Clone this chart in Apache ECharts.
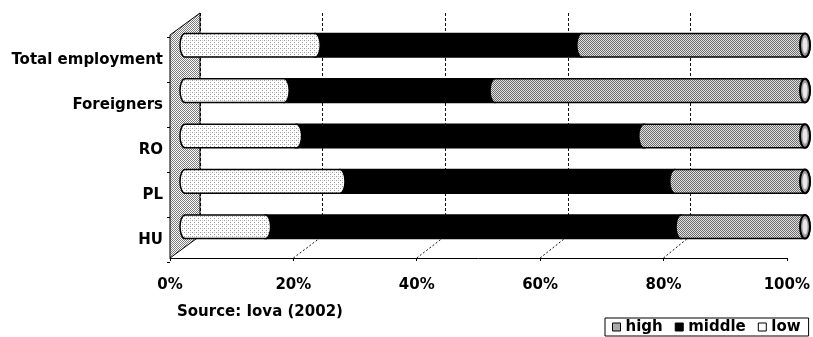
<!DOCTYPE html>
<html>
<head>
<meta charset="utf-8">
<script src="https://cdn.jsdelivr.net/npm/echarts@6/dist/echarts.min.js"></script>
<style>
  html, body { margin: 0; padding: 0; background: #fff; }
  #chart { width: 813px; height: 337px; }
</style>
</head>
<body>
<div id="chart"></div>
<script>
// Share of employment by skill level (percent of each group)
const categories = ['Total employment', 'Foreigners', 'RO', 'PL', 'HU'];
const high = [21, 16, 18, 25, 13];
const middle = [43, 34, 56, 54, 67];
const low = [36, 50, 26, 21, 20];
const seriesNames = ['high', 'middle', 'low'];
const percentTicks = [0, 20, 40, 60, 80, 100];
const sourceNote = 'Source: Iova (2002)';

const FONT = 'DejaVu Sans';

// Small dithered fills, drawn once into canvases and tiled
function makePattern(size, paint) {
  const c = document.createElement('canvas');
  c.width = c.height = size;
  paint(c.getContext('2d'));
  return { image: c, repeat: 'repeat' };
}
const lightFill = makePattern(4, ctx => {
  ctx.fillStyle = '#ffffff'; ctx.fillRect(0, 0, 4, 4);
  ctx.fillStyle = '#9a9a9a'; ctx.fillRect(0, 0, 1, 1); ctx.fillRect(2, 2, 1, 1);
  ctx.fillStyle = '#cfcfcf'; ctx.fillRect(2, 0, 1, 1);
});
const grayFill = makePattern(2, ctx => {
  ctx.fillStyle = '#e2e2e2'; ctx.fillRect(0, 0, 2, 2);
  ctx.fillStyle = '#6c6c6c'; ctx.fillRect(0, 0, 1, 1); ctx.fillRect(1, 1, 1, 1);
});
const wallFill = makePattern(2, ctx => {
  ctx.fillStyle = '#ffffff'; ctx.fillRect(0, 0, 2, 2);
  ctx.fillStyle = '#7a7a7a'; ctx.fillRect(0, 0, 1, 1); ctx.fillRect(1, 1, 1, 1);
});
const iconFill = makePattern(2, ctx => {
  ctx.fillStyle = '#ffffff'; ctx.fillRect(0, 0, 2, 2);
  ctx.fillStyle = '#555555'; ctx.fillRect(0, 0, 1, 1); ctx.fillRect(1, 1, 1, 1);
});

const stacks = [high, middle, low];
function segmentData(k) {
  return categories.map((c, i) => {
    let start = 0;
    for (let j = 0; j < k; j++) start += stacks[j][i];
    return [i, start, start + stacks[k][i]];
  });
}

// Cylinder segment: body with elliptic ends; the last one also shows its end cap
function cylinderRenderer(fill, withCap) {
  return function (params, api) {
    const cat = api.value(0);
    const a = api.coord([api.value(1), cat]);
    const b = api.coord([api.value(2), cat]);
    const band = api.size([0, 1])[1];
    const r = band * 0.26;
    const rx = 5;
    const top = a[1] - r, bot = a[1] + r;
    const body = 'M' + a[0] + ' ' + top + ' L' + b[0] + ' ' + top +
      ' A' + rx + ' ' + r + ' 0 0 1 ' + b[0] + ' ' + bot +
      ' L' + a[0] + ' ' + bot +
      ' A' + rx + ' ' + r + ' 0 0 1 ' + a[0] + ' ' + top + ' Z';
    const children = [{
      type: 'path',
      shape: { pathData: body },
      style: { fill: fill, stroke: '#000', lineWidth: 1.5 }
    }];
    if (withCap) {
      const cap = 'M' + b[0] + ' ' + top +
        ' A' + rx + ' ' + r + ' 0 0 1 ' + b[0] + ' ' + bot +
        ' A' + rx + ' ' + r + ' 0 0 1 ' + b[0] + ' ' + top + ' Z';
      const ir = r - 4, irx = rx - 2.5;
      const inner = 'M' + b[0] + ' ' + (a[1] - ir) +
        ' A' + irx + ' ' + ir + ' 0 0 1 ' + b[0] + ' ' + (a[1] + ir) +
        ' A' + irx + ' ' + ir + ' 0 0 1 ' + b[0] + ' ' + (a[1] - ir) + ' Z';
      children.push({ type: 'path', shape: { pathData: cap }, style: { fill: '#9a9a9a', stroke: '#000', lineWidth: 2 } });
      children.push({ type: 'path', shape: { pathData: inner }, style: { fill: '#e8e8e8', stroke: null } });
    }
    return { type: 'group', children: children };
  };
}

const textBase = { fontFamily: FONT, fontSize: 15, fontWeight: 'bold', color: '#000' };

const chart = echarts.init(document.getElementById('chart'), null, { renderer: 'canvas' });

const option = {
  animation: false,
  backgroundColor: '#fff',
  title: {
    text: sourceNote,
    left: 177, top: 305, padding: 0,
    textStyle: textBase
  },
  legend: {
    left: 605, top: 318,
    itemWidth: 8, itemHeight: 8, itemGap: 12,
    padding: [1, 8, 1, 7],
    borderColor: '#000', borderWidth: 1,
    selectedMode: false,
    textStyle: Object.assign({ lineHeight: 16 }, textBase),
    data: [
      { name: 'high', icon: 'rect', itemStyle: { color: iconFill, borderColor: '#000', borderWidth: 1 } },
      { name: 'middle', icon: 'rect', itemStyle: { color: '#000', borderColor: '#000', borderWidth: 1 } },
      { name: 'low', icon: 'rect', itemStyle: { color: '#fff', borderColor: '#000', borderWidth: 1 } }
    ]
  },
  grid: [
    { left: 185, width: 620, top: 22.5, height: 227 },  // bars, mid depth
    { left: 170, width: 621, top: 35, height: 223 },    // front plane
    { left: 200, width: 621, top: 13, height: 223 },    // back wall
    { left: 170, width: 621, top: 37.5, height: 225 }   // category labels
  ],
  xAxis: [
    { gridIndex: 0, type: 'value', min: 0, max: 100, show: false },
    {
      gridIndex: 1, type: 'value', min: 0, max: 100, interval: 20,
      axisLine: { show: true, lineStyle: { color: '#000', width: 1 } },
      axisTick: { show: true, length: 3, lineStyle: { color: '#000' } },
      axisLabel: Object.assign({ formatter: '{value}%', margin: 20 }, textBase),
      splitLine: { show: false }
    },
    {
      gridIndex: 2, type: 'value', min: 0, max: 100, interval: 20,
      axisLine: { show: false }, axisTick: { show: false }, axisLabel: { show: false },
      splitLine: { show: true, lineStyle: { color: '#111', width: 1, type: [3, 2] } }
    },
    { gridIndex: 3, type: 'value', min: 0, max: 100, show: false }
  ],
  yAxis: [
    { gridIndex: 0, type: 'category', data: categories, inverse: true, show: false },
    { gridIndex: 1, type: 'value', min: 0, max: 1, show: false },
    { gridIndex: 2, type: 'value', min: 0, max: 1, show: false },
    {
      gridIndex: 3, type: 'category', data: categories, inverse: true,
      axisLine: { show: false },
      axisTick: { show: true, length: 3, lineStyle: { color: '#000' } },
      axisLabel: Object.assign({ margin: 7 }, textBase)
    }
  ],
  series: [
    {
      name: seriesNames[0], type: 'custom', xAxisIndex: 0, yAxisIndex: 0, z: 4,
      itemStyle: { color: iconFill },
      renderItem: cylinderRenderer(lightFill, false),
      encode: { x: [1, 2], y: 0 },
      data: segmentData(0)
    },
    {
      name: seriesNames[1], type: 'custom', xAxisIndex: 0, yAxisIndex: 0, z: 3,
      itemStyle: { color: '#000' },
      renderItem: cylinderRenderer('#000', false),
      encode: { x: [1, 2], y: 0 },
      data: segmentData(1)
    },
    {
      name: seriesNames[2], type: 'custom', xAxisIndex: 0, yAxisIndex: 0, z: 4,
      itemStyle: { color: '#fff' },
      renderItem: cylinderRenderer(grayFill, true),
      encode: { x: [1, 2], y: 0 },
      data: segmentData(2)
    }
  ]
};

chart.setOption(option);

// Side wall and floor guides, placed from the front and back axes
const fx = v => chart.convertToPixel({ xAxisIndex: 1 }, v);
const bx = v => chart.convertToPixel({ xAxisIndex: 2 }, v);
const fy = v => chart.convertToPixel({ yAxisIndex: 1 }, v);
const by = v => chart.convertToPixel({ yAxisIndex: 2 }, v);

const elements = [{
  type: 'polygon', z: 1,
  shape: { points: [[fx(0), fy(1)], [bx(0), by(1)], [bx(0), by(0)], [fx(0), fy(0)]] },
  style: { fill: wallFill, stroke: '#000', lineWidth: 1 }
}];
percentTicks.filter(v => v > 0 && v < 100).forEach(v => {
  elements.push({
    type: 'line', z: 1,
    shape: { x1: fx(v), y1: fy(0), x2: bx(v), y2: by(0) },
    style: { stroke: '#111', lineWidth: 1, lineDash: [2, 2] }
  });
});
chart.setOption({ graphic: { elements: elements } });
</script>
</body>
</html>
